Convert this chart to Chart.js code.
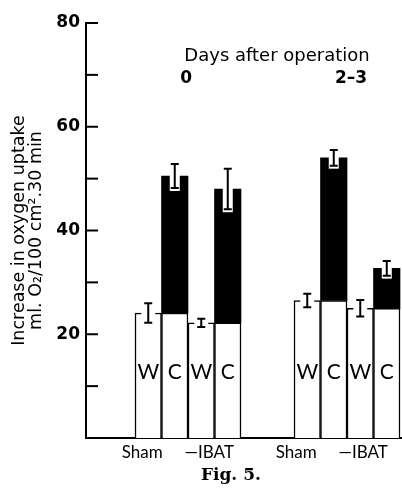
<!DOCTYPE html>
<html>
<head>
<meta charset="utf-8">
<script src="https://cdn.jsdelivr.net/npm/chart.js@4.4.1/dist/chart.umd.min.js"></script>
<style>
  html, body { margin: 0; padding: 0; background: #fff; }
  #wrap { width: 402px; height: 491px; position: relative; }
</style>
</head>
<body>
<div id="wrap"><canvas id="fig5"></canvas></div>
<script>
// groups in order: Sham (day 0), -IBAT (day 0), Sham (day 2-3), -IBAT (day 2-3)
const groupLabels = ["Sham", "\u2014IBAT", "Sham", "\u2014IBAT"];
const dayLabels = ["0", "2\u20133"];
const barLetters = ["W", "C"];
const wValues = [24.1, 22.2, 26.5, 25.0];
const wErrors = [1.9, 0.8, 1.3, 1.6];
const cValues = [50.5, 48.0, 54.0, 32.7];
const cErrors = [2.3, 3.9, 1.5, 1.4];
const yTickLabels = [20, 40, 60, 80];
const yTickMarks = [10, 20, 30, 40, 50, 60, 70, 80];

// layout (x axis units = one bar width)
const groupSlots = [2, 4, 8, 10];
const groupLabelPos = [2.27, 4.8, 8.08, 10.61];
const dayLabelPos = [3.93, 10.15];

const sans = "'DejaVu Sans', sans-serif";
const lato = "Lato, 'DejaVu Sans', sans-serif";

const whiteBars = [];
const blackBars = [];
groupSlots.forEach((s, g) => {
    whiteBars.push({ x: s + 0.5, y: wValues[g] });
    whiteBars.push({ x: s + 1.5, y: wValues[g] });
    blackBars.push({ x: s + 1.5, y: cValues[g] - wValues[g] });
});

function drawI(ctx, x, yTop, yBot) {
    ctx.strokeStyle = "#000";
    ctx.lineWidth = 2;
    ctx.beginPath();
    ctx.moveTo(x, yTop);
    ctx.lineTo(x, yBot);
    ctx.moveTo(x - 4, yTop);
    ctx.lineTo(x + 4, yTop);
    ctx.moveTo(x - 4, yBot);
    ctx.lineTo(x + 4, yBot);
    ctx.stroke();
}

const figExtras = {
    id: "figExtras",
    afterDatasetsDraw(chart) {
        const ctx = chart.ctx;
        const xs = chart.scales.x;
        const ys = chart.scales.y;
        const area = chart.chartArea;
        ctx.save();

        // inward tick marks on y axis
        ctx.strokeStyle = "#000";
        ctx.lineWidth = 2;
        yTickMarks.forEach((v) => {
            const py = ys.getPixelForValue(v);
            ctx.beginPath();
            ctx.moveTo(area.left, py);
            ctx.lineTo(area.left + 12, py);
            ctx.stroke();
        });

        groupSlots.forEach((s, g) => {
            // W error bar, with small gaps in the bar top
            const xw = xs.getPixelForValue(s + 0.5);
            const wt = ys.getPixelForValue(wValues[g] + wErrors[g]);
            const wb = ys.getPixelForValue(wValues[g] - wErrors[g]);
            ctx.fillStyle = "#fff";
            ctx.fillRect(xw - 7, wt - 1, 14, wb - wt + 2);
            drawI(ctx, xw, wt, wb);

            // C error bar, cut as a white notch into the black top
            const xc = xs.getPixelForValue(s + 1.5);
            const top = ys.getPixelForValue(cValues[g]);
            const ct = ys.getPixelForValue(cValues[g] + cErrors[g]);
            const cb = ys.getPixelForValue(cValues[g] - cErrors[g]);
            if (cb + 3 > top) {
                ctx.fillStyle = "#fff";
                ctx.fillRect(xc - 5, top - 1, 10, cb + 4 - top);
            }
            drawI(ctx, xc, ct, cb);

            // W / C letters
            ctx.fillStyle = "#000";
            ctx.font = "21px " + lato;
            ctx.textAlign = "center";
            ctx.textBaseline = "middle";
            const ly = ys.getPixelForValue(12.6);
            ctx.fillText(barLetters[0], xw, ly);
            ctx.fillText(barLetters[1], xc, ly);
        });

        // header text
        ctx.fillStyle = "#000";
        ctx.textAlign = "center";
        ctx.textBaseline = "middle";
        ctx.font = "18px " + sans;
        ctx.fillText("Days after operation", xs.getPixelForValue(7.36), ys.getPixelForValue(73.5));
        ctx.font = "bold 17px " + sans;
        dayLabels.forEach((t, i) => {
            ctx.fillText(t, xs.getPixelForValue(dayLabelPos[i]), ys.getPixelForValue(69.3));
        });

        // caption
        ctx.font = "bold 17px 'DejaVu Serif', serif";
        ctx.fillText("Fig. 5.", xs.getPixelForValue(5.62), area.bottom + 38);
        ctx.restore();
    },
};

new Chart(document.getElementById("fig5").getContext("2d"), {
    type: "bar",
    data: {
        datasets: [
            {
                label: "W",
                data: whiteBars,
                backgroundColor: "#fff",
                borderColor: "#000",
                borderWidth: 1.5,
                stack: "a",
            },
            {
                label: "C",
                data: blackBars,
                backgroundColor: "#000",
                borderWidth: 0,
                stack: "a",
            },
        ],
    },
    options: {
        responsive: true,
        maintainAspectRatio: false,
        animation: false,
        categoryPercentage: 1,
        barPercentage: 1,
        layout: { padding: { top: 23, right: 0, bottom: 25, left: 0 } },
        plugins: {
            legend: { display: false },
            tooltip: { enabled: false },
        },
        scales: {
            x: {
                type: "linear",
                offset: false,
                stacked: true,
                min: 0.151,
                max: 12.075,
                grid: { display: false, drawTicks: false, tickLength: 0 },
                border: { display: true, color: "#000", width: 2 },
                afterBuildTicks: (scale) => {
                    scale.ticks = groupLabelPos.map((v) => ({ value: v }));
                },
                afterFit: (scale) => {
                    scale.height = 28;
                },
                ticks: {
                    autoSkip: false,
                    maxRotation: 0,
                    color: "#000",
                    padding: 4,
                    font: { family: lato, size: 17 },
                    callback: (v, i) => groupLabels[i],
                },
            },
            y: {
                min: 0,
                max: 80,
                stacked: true,
                grid: { display: false, drawTicks: false, tickLength: 0 },
                border: { display: true, color: "#000", width: 2 },
                afterBuildTicks: (scale) => {
                    scale.ticks = yTickLabels.map((v) => ({ value: v }));
                },
                afterFit: (scale) => {
                    scale.width = 86;
                },
                ticks: {
                    color: "#000",
                    padding: 6,
                    font: { family: sans, size: 17, weight: "bold" },
                },
                title: {
                    display: true,
                    text: ["Increase in oxygen uptake", "ml. O\u2082/100 cm\u00b2.30 min"],
                    color: "#000",
                    padding: { top: 11, bottom: 0 },
                    font: { family: sans, size: 17.5, lineHeight: 0.97 },
                },
            },
        },
    },
    plugins: [figExtras],
});
</script>
</body>
</html>
